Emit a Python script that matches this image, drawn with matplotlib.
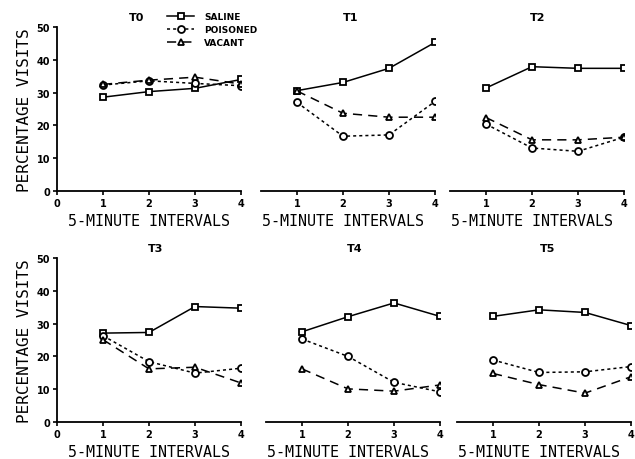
import matplotlib
matplotlib.use("Agg")
import matplotlib.pyplot as plt

intervals = [1, 2, 3, 4]
panels = ["T0", "T1", "T2", "T3", "T4", "T5"]
series_names = ["SALINE", "POISONED", "VACANT"]

saline = [
    [28.6, 30.3, 31.3, 34.0],
    [30.6, 33.1, 37.4, 45.3],
    [31.4, 37.9, 37.4, 37.4],
    [27.1, 27.3, 35.2, 34.7],
    [27.5, 32.1, 36.3, 32.2],
    [32.2, 34.2, 33.4, 29.4],
]
poisoned = [
    [32.3, 33.6, 32.8, 32.1],
    [27.0, 16.7, 17.1, 27.3],
    [20.4, 13.1, 12.1, 16.4],
    [26.3, 18.4, 14.9, 16.4],
    [25.3, 20.0, 12.1, 9.2],
    [18.9, 15.1, 15.3, 16.9],
]
vacant = [
    [32.5, 33.8, 34.7, 32.6],
    [30.5, 23.7, 22.5, 22.5],
    [22.4, 15.6, 15.6, 16.4],
    [25.1, 16.2, 16.7, 11.9],
    [16.2, 10.1, 9.4, 11.3],
    [14.8, 11.4, 8.8, 13.8],
]
yticks = [0, 10, 20, 30, 40, 50]

W, H = 635, 460
fig = plt.figure(figsize=(W / 100, H / 100), dpi=100)

lefts = [57, 251, 440, 57, 256, 447]
bottoms = [268, 268, 268, 37, 37, 37]
aw, ah = 184, 164
title_x = [1.74, 2.17, 2.12, 2.15, 2.14, 2.18]

mono = "DejaVu Sans Mono"
styles = [
    dict(marker="s", linestyle="-"),
    dict(marker="o", linestyle=(0, (2, 2))),
    dict(marker="^", linestyle=(0, (6, 4))),
]

axes = []
for i, name in enumerate(panels):
    ax = fig.add_axes([lefts[i] / W, bottoms[i] / H, aw / W, ah / H])
    ax.patch.set_visible(False)
    axes.append(ax)
    data = [saline[i], poisoned[i], vacant[i]]
    for j, (vals, st) in enumerate(zip(data, styles)):
        ax.plot(intervals, vals, color="black", linewidth=1.1,
                marker=st["marker"], linestyle=st["linestyle"],
                markersize=5, markerfacecolor="white",
                markeredgecolor="black", markeredgewidth=1.3,
                label=series_names[j])
    ax.set_xlim(0, 4)
    ax.set_ylim(0, 50)
    ax.spines["top"].set_visible(False)
    ax.spines["right"].set_visible(False)
    ax.spines["bottom"].set_linewidth(1.3)
    ax.tick_params(axis="both", direction="out", width=1.2, length=3,
                   pad=2, labelsize=7)
    ax.set_xlabel("5-MINUTE INTERVALS", family=mono, fontsize=10.8,
                  labelpad=4)
    ax.text(title_x[i], 51.5, name, fontsize=8, fontweight="bold",
            ha="center", va="bottom")
    if i in (0, 3):
        ax.set_xticks([0, 1, 2, 3, 4])
        ax.set_yticks(yticks)
        ax.spines["left"].set_linewidth(1.3)
        ax.set_ylabel("PERCENTAGE VISITS", family=mono, fontsize=11.5,
                      labelpad=3)
    else:
        ax.set_xticks([1, 2, 3, 4])
        ax.spines["left"].set_visible(False)
        ax.spines["bottom"].set_bounds(0.22, 4)
        ax.set_yticks([])
    for lab in ax.get_xticklabels() + ax.get_yticklabels():
        lab.set_fontweight("bold")

axes[0].set_zorder(5)
leg = axes[0].legend(loc="upper left", bbox_to_anchor=(0.6, 1.09),
                     frameon=False, fontsize=6.5, handlelength=3.0,
                     handletextpad=1.1, labelspacing=0.45, borderpad=0,
                     borderaxespad=0)
for t in leg.get_texts():
    t.set_fontweight("bold")

fig.savefig("out.png", dpi=100)
